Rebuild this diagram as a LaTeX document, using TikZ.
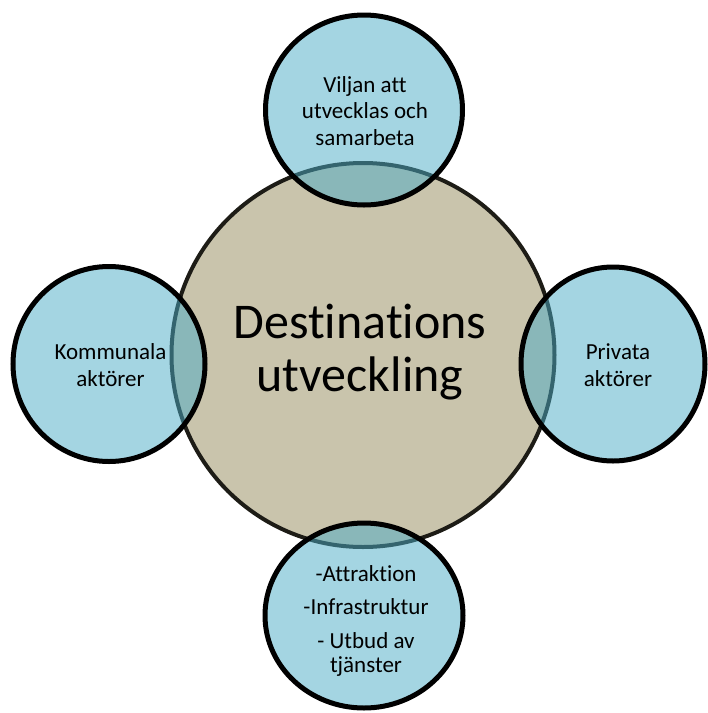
\documentclass[tikz,border=0pt]{standalone}
\usepackage{fontspec}
\setmainfont[Ligatures=NoCommon]{Carlito}
\usetikzlibrary{shapes.geometric}
\definecolor{bluefill}{RGB}{75,172,198}
\definecolor{tanfill}{RGB}{201,196,172}
\definecolor{tanline}{RGB}{29,28,22}
\begin{document}
\begin{tikzpicture}[x=1pt,y=-1pt,
  hub/.style={ellipse, inner sep=0pt, fill=tanfill, draw=tanline, line width=4pt},
  satellite/.style={ellipse, inner sep=0pt, fill=bluefill, fill opacity=0.5, draw=black, draw opacity=1, line width=5pt},
  smalltxt/.style={align=center, text=black, font=\fontsize{23}{26.5}\selectfont, inner sep=0pt},
  bigtxt/.style={align=center, text=black, font=\fontsize{50}{53}\selectfont, inner sep=0pt}]
\useasboundingbox (0,0) rectangle (708,713);
\fill[white] (0,0) rectangle (708,713);
\node[hub, minimum width=383, minimum height=384] (hub) at (363,355) {};
\node[satellite, minimum width=197, minimum height=190] (topc) at (364,110) {};
\node[satellite, minimum width=192, minimum height=195] (leftc) at (109,364) {};
\node[satellite, minimum width=184, minimum height=194] (rightc) at (613,364) {};
\node[satellite, minimum width=198, minimum height=185] (botc) at (364,615.5) {};
\node[bigtxt] (hubt) at (360,352) {Destinations\\utveckling};
\node[smalltxt] (topt) at (365,111) {Viljan att\\utvecklas och\\samarbeta};
\node[smalltxt] (leftt) at (110.5,365) {Kommunala\\aktörer};
\node[smalltxt] (rightt) at (618,365) {Privata\\aktörer};
\node[smalltxt] (bott) at (366,621) {-Attraktion\\[6pt]-Infrastruktur\\[7.5pt]- Utbud av\\[-2pt]tjänster};
\end{tikzpicture}
\end{document}
